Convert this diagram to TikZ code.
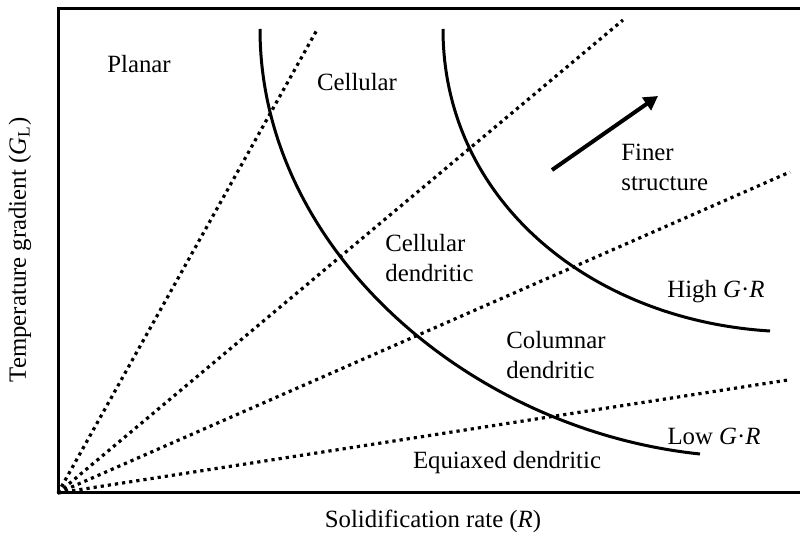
\documentclass[tikz,border=0pt]{standalone}
\usepackage{fontspec}
\setmainfont{Liberation Serif}
\usetikzlibrary{arrows.meta}
\begin{document}
\begin{tikzpicture}[
		x=0.5pt,y=-0.5pt,
		font=\fontsize{12.4}{15}\selectfont,
		frame/.style = {line width=1.5pt},
		ray/.style = {line width=1.6pt, dash pattern=on 1.6pt off 2pt},
		limit/.style = {line width=1.5pt},
		finer/.style = {line width=2pt, -{Triangle[length=7pt,width=7.5pt]}},
		region/.style = {align=left, inner sep=0pt}
	]
	\useasboundingbox (0,0) rectangle (800,535);
	\draw [frame] (800,9) -- (58,9) -- (58,493) -- (800,493);

	\coordinate (o) at (58,493);
	\coordinate (r1) at (318,28);
	\coordinate (r2) at (623,20);
	\coordinate (r3) at (790,172);
	\coordinate (r4) at (788,380);
	\path [ray] (o) edge (r1);
	\path [ray] (o) edge (r2);
	\path [ray] (o) edge (r3);
	\path [ray] (o) edge (r4);

	\coordinate (low0) at (260,29);
	\coordinate (low1) at (700,454);
	\coordinate (high0) at (443,29);
	\coordinate (high1) at (770,331);
	\draw [limit] (low0) .. controls (260,250) and (470,430) .. (low1);
	\draw [limit] (high0) .. controls (443,200) and (590,320) .. (high1);

	\coordinate (a0) at (552,170);
	\coordinate (a1) at (658,96);
	\draw [finer] (a0) -- (a1);

	\node (planar) at (139,64) {Planar};
	\node (cell) at (357,82) {Cellular};
	\node (celldend) [region, anchor=west] at (385,258) {Cellular\\dendritic};
	\node (fine) [region, anchor=west] at (621,167) {Finer\\structure};
	\node (coldend) [region, anchor=west] at (506,355) {Columnar\\dendritic};
	\node (high) at (716,292) {High \textit{G}·\textit{R}};
	\node (low) at (714,436) {Low \textit{G}·\textit{R}};
	\node (equi) at (507,463) {Equiaxed dendritic};
	\node (xlab) at (433,521) {Solidification rate (\textit{R})};
	\node (ylab) [rotate=90] at (20,250) {Temperature gradient (\textit{G}\textsubscript{L})};
\end{tikzpicture}
\end{document}
